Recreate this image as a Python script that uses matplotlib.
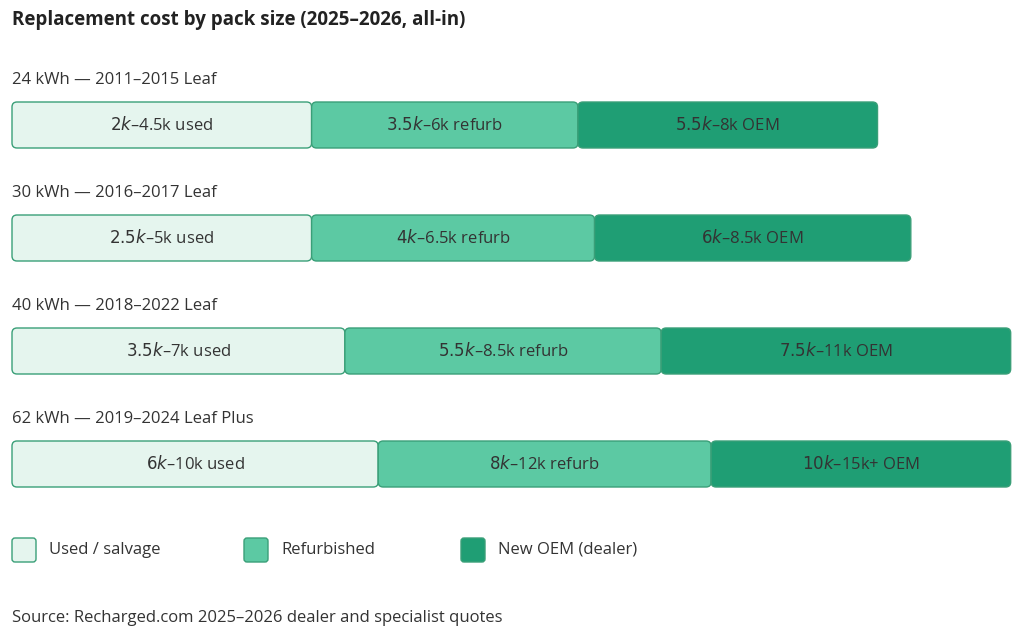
import matplotlib.pyplot as plt
from matplotlib.patches import FancyBboxPatch, Rectangle

plt.rcParams['font.family'] = ['Open Sans', 'DejaVu Sans']

# data
packs = ["24 kWh — 2011–2015 Leaf", "30 kWh — 2016–2017 Leaf",
         "40 kWh — 2018–2022 Leaf", "62 kWh — 2019–2024 Leaf Plus"]
seg_labels = [
    ["$2k–$4.5k used", "$3.5k–$6k refurb", "$5.5k–$8k OEM"],
    ["$2.5k–$5k used", "$4k–$6.5k refurb", "$6k–$8.5k OEM"],
    ["$3.5k–$7k used", "$5.5k–$8.5k refurb", "$7.5k–$11k OEM"],
    ["$6k–$10k used", "$8k–$12k refurb", "$10k–$15k+ OEM"],
]
# relative segment widths (as drawn)
seg_widths = [
    [9, 8, 9],
    [9, 8.5, 9.5],
    [10, 9.5, 10.5],
    [11, 10, 9],
]
legend_names = ["Used / salvage", "Refurbished", "New OEM (dealer)"]
fills = ["#e5f5ee", "#5cc9a3", "#1f9e74"]
edge = "#3a9f78"
text_c = "#333333"

unit = 1012 / 30.4  # pixels per width unit
fig = plt.figure(figsize=(10.24, 6.38), dpi=100)
ax = fig.add_axes([0, 0, 1, 1])
ax.set_xlim(-12 / unit, (1024 - 12) / unit)
ax.set_ylim(638, 0)
ax.axis('off')

ax.text(-12 / unit + 12 / unit, 20, "Replacement cost by pack size (2025–2026, all-in)",
        fontsize=13.5, fontweight='bold', color="#222222", va='center')

for i, (name, labs, ws) in enumerate(zip(packs, seg_labels, seg_widths)):
    top = 80 + i * 113
    ax.text(0, top, name, fontsize=12, color=text_c, va='center')
    left = 0
    for j, (lab, w) in enumerate(zip(labs, ws)):
        p = FancyBboxPatch((left, top + 22), w, 46,
                           boxstyle="round,pad=0,rounding_size=%f" % (5 / unit),
                           mutation_aspect=unit, facecolor=fills[j],
                           edgecolor=edge, linewidth=1)
        ax.add_patch(p)
        ax.text(left + w / 2, top + 45, lab, fontsize=12,
                color=text_c, ha='center', va='center')
        left += w

leg_x = [0, 232 / unit, 449 / unit]
for x, nm, c in zip(leg_x, legend_names, fills):
    ax.add_patch(FancyBboxPatch((x, 538), 24 / unit, 24,
                                boxstyle="round,pad=0,rounding_size=%f" % (3 / unit),
                                mutation_aspect=unit, facecolor=c,
                                edgecolor=edge, linewidth=1))
    ax.text(x + 37 / unit, 550, nm, fontsize=12, color=text_c, va='center')

ax.text(0, 618, "Source: Recharged.com 2025–2026 dealer and specialist quotes",
        fontsize=12, color=text_c, va='center')

fig.savefig("out.png", dpi=100)
